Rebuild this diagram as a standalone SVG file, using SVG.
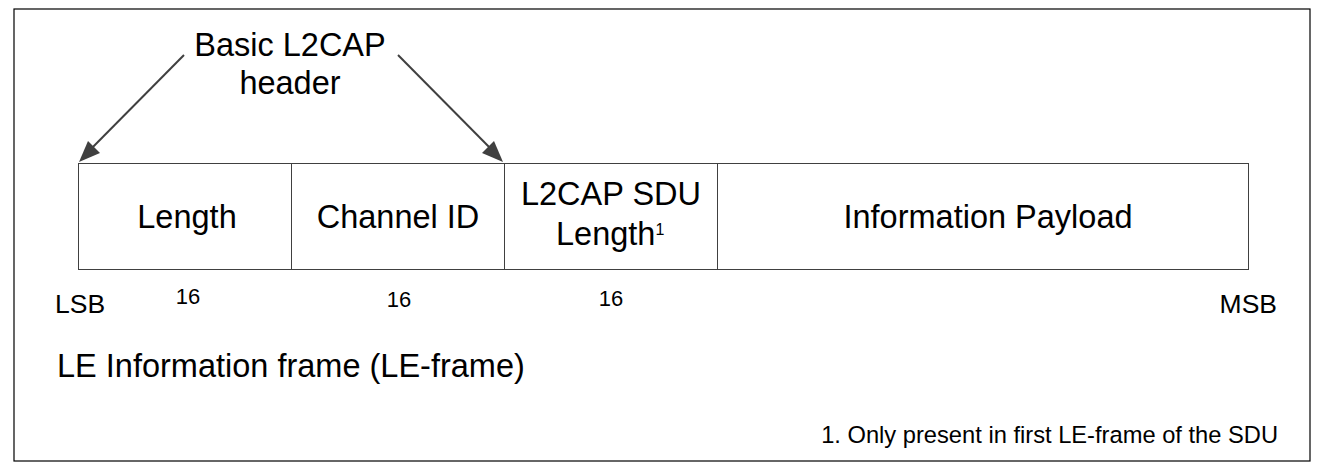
<svg xmlns="http://www.w3.org/2000/svg" width="1323" height="471" viewBox="0 0 1323 471">
<style>
text{font-family:"Liberation Sans",Arial,sans-serif;fill:#000}
.big{font-size:32.5px}
.lbl{font-size:22px}
.end{font-size:26.5px}
.cell{fill:#fff;stroke:#404040;stroke-width:1}
.conn{stroke:#404040;stroke-width:2;fill:none}
.head{fill:#404040}
</style>
<rect x="0" y="0" width="1323" height="471" fill="#fff"/>
<rect x="14" y="9" width="1296" height="452" fill="none" stroke="#000" stroke-width="1.2"/>
<g id="header-label">
<text class="big" x="290" y="56" text-anchor="middle">Basic L2CAP</text>
<text class="big" x="290" y="94" text-anchor="middle">header</text>
</g>
<g id="connectors">
<line class="conn" x1="184" y1="55" x2="84" y2="156"/>
<path class="head" d="M79,162 L88,141 L100,153 z"/>
<line class="conn" x1="398" y1="55" x2="498" y2="156"/>
<path class="head" d="M503,162 L482,153 L494,141 z"/>
</g>
<g id="field-length">
<rect class="cell" x="78.5" y="163.5" width="213" height="106"/>
<text class="big" x="187" y="228" text-anchor="middle">Length</text>
</g>
<g id="field-channel-id">
<rect class="cell" x="291.5" y="163.5" width="213" height="106"/>
<text class="big" x="398" y="228" text-anchor="middle">Channel ID</text>
</g>
<g id="field-sdu-length">
<rect class="cell" x="504.5" y="163.5" width="213" height="106"/>
<text class="big" x="611" y="205" text-anchor="middle">L2CAP SDU</text>
<text class="big" x="556" y="245">Length<tspan font-size="16" dy="-10">1</tspan></text>
</g>
<g id="field-payload">
<rect class="cell" x="717.5" y="163.5" width="531" height="106"/>
<text class="big" x="988" y="228" text-anchor="middle">Information Payload</text>
</g>
<g id="bit-labels">
<text class="end" x="55" y="313">LSB</text>
<text class="lbl" x="188" y="304" text-anchor="middle">16</text>
<text class="lbl" x="399" y="307" text-anchor="middle">16</text>
<text class="lbl" x="611" y="306" text-anchor="middle">16</text>
<text class="end" x="1277" y="313" text-anchor="end">MSB</text>
</g>
<g id="title">
<text class="big" x="57" y="377">LE Information frame (LE-frame)</text>
</g>
<g id="footnote">
<text x="1278" y="443" text-anchor="end" font-size="23.7">1. Only present in first LE-frame of the SDU</text>
</g>
</svg>
